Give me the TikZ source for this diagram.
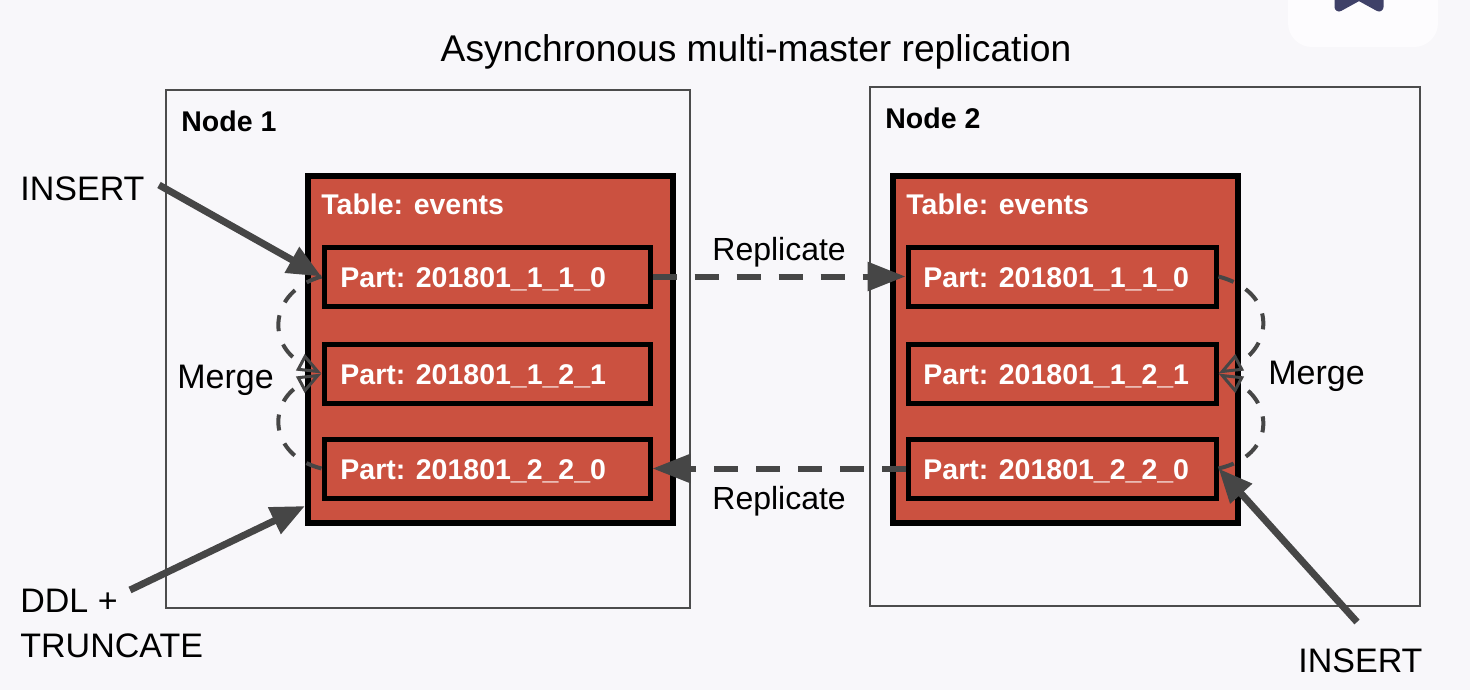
\documentclass[tikz,border=0pt]{standalone}
\usepackage{fontspec}
\setmainfont{Liberation Sans}
\usetikzlibrary{arrows.meta,calc}
\definecolor{bg}{HTML}{F8F7FA}
\definecolor{card}{HTML}{FDFCFE}
\definecolor{tred}{HTML}{CB5140}
\definecolor{agray}{HTML}{464646}
\definecolor{navy}{HTML}{3F4168}
\begin{document}
\begin{tikzpicture}[x=0.5pt,y=-0.5pt,
  hostbox/.style={draw=black!70, line width=0.8pt, fill=bg, inner sep=0pt},
  tablebox/.style={draw=black, line width=3pt, fill=tred, inner sep=0pt},
  partbox/.style={draw=black, line width=2.5pt, fill=tred, inner sep=0pt, minimum height=29.5pt},
  boldtxt/.style={font=\fontsize{14.25}{17}\selectfont\bfseries, inner sep=0pt, anchor=base west},
  whitetxt/.style={boldtxt, text=white},
  lbl/.style={font=\fontsize{17}{22.5}\selectfont, inner sep=0pt, anchor=base west},
  replbl/.style={font=\fontsize{16}{19}\selectfont, inner sep=0pt, anchor=base west},
  solidarrow/.style={draw=agray, line width=3.5pt, -{Triangle[length=17pt,width=14pt]}},
  reparrow/.style={draw=agray, line width=3pt, dash pattern=on 12pt off 9pt, -{Triangle[length=19pt,width=14pt]}},
  mergearrow/.style={draw=agray, line width=2pt, dash pattern=on 8pt off 7pt, -{Triangle[open,length=12pt,width=9pt,line width=1.5pt]}}
]
\useasboundingbox (0,0) rectangle (1470,690);
\fill[bg] (0,0) rectangle (1470,690);

% top-right UI card
\fill[card, rounded corners=12pt] (1288,-40) rectangle (1438,47);
\draw[navy, line width=4.5pt, line join=round, line cap=round] (1339,-6) -- (1339,7) -- (1359,-4) -- (1379,7) -- (1379,-6);

% title
\node[font=\fontsize{18.6}{22}\selectfont, inner sep=0pt, anchor=base] (title) at (756,62) {Asynchronous multi-master replication};

% hosts
\node[hostbox, minimum width=262pt, minimum height=259pt] (n1) at (428,349) {};
\node[hostbox, minimum width=275pt, minimum height=259.5pt] (n2) at (1145,346.5) {};
\node[boldtxt] (n1t) at (181,132) {Node 1};
\node[boldtxt] (n2t) at (885,128) {Node 2};

% tables
\node[tablebox, minimum width=182.5pt, minimum height=173.5pt] (t1) at (490.5,349.5) {};
\node[tablebox, minimum width=172.5pt, minimum height=173.5pt] (t2) at (1065.5,349.5) {};
\node[whitetxt] (t1t) at (321,214) {Table: events};
\node[whitetxt] (t2t) at (906,214) {Table: events};

% parts node 1
\node[partbox, minimum width=163pt] (p11) at (487,276.5) {};
\node[partbox, minimum width=163pt] (p12) at (487,373.5) {};
\node[partbox, minimum width=163pt] (p13) at (487,468.5) {};
\node[whitetxt] (p11t) at (340,287.5) {Part: 201801\_1\_1\_0};
\node[whitetxt] (p12t) at (340,384.5) {Part: 201801\_1\_2\_1};
\node[whitetxt] (p13t) at (340,479.5) {Part: 201801\_2\_2\_0};

% parts node 2
\node[partbox, minimum width=154pt] (p21) at (1062,276.5) {};
\node[partbox, minimum width=154pt] (p22) at (1062,373.5) {};
\node[partbox, minimum width=154pt] (p23) at (1062,468.5) {};
\node[whitetxt] (p21t) at (923,287.5) {Part: 201801\_1\_1\_0};
\node[whitetxt] (p22t) at (923,384.5) {Part: 201801\_1\_2\_1};
\node[whitetxt] (p23t) at (923,479.5) {Part: 201801\_2\_2\_0};

% labels
\node[lbl] (ins1) at (20,200) {INSERT};
\node[lbl, anchor=north west, align=left] (ddl) at (20,589) {DDL +\\TRUNCATE};
\node[lbl] (ins2) at (1298,672) {INSERT};
\node[lbl] (m1) at (177,388) {Merge};
\node[lbl] (m2) at (1268,384) {Merge};
\node[replbl] (r1) at (712,260) {Replicate};
\node[replbl] (r2) at (712,509) {Replicate};

% free ends
\coordinate (ins1s) at (159,185);
\coordinate (ddls) at (130,590);
\coordinate (ins2s) at (1357,622);

% solid arrows
\draw[solidarrow] (ins1s) -- (p11.west);
\draw[solidarrow] (ddls) -- ([yshift=10pt]t1.south west);
\draw[solidarrow] (ins2s) -- (p23.east);

% replication
\draw[reparrow] (p11.east) -- (p21.west);
\draw[reparrow] (p23.west) -- (p13.east);

% merges
\draw[mergearrow] (p11.west) .. controls (268,292) and (268,345) .. (p12.west);
\draw[mergearrow] (p13.west) .. controls (268,455) and (268,402) .. (p12.west);
\draw[mergearrow] (p21.east) .. controls (1277,292) and (1272,345) .. (p22.east);
\draw[mergearrow] (p23.east) .. controls (1277,455) and (1272,402) .. (p22.east);
\end{tikzpicture}
\end{document}
